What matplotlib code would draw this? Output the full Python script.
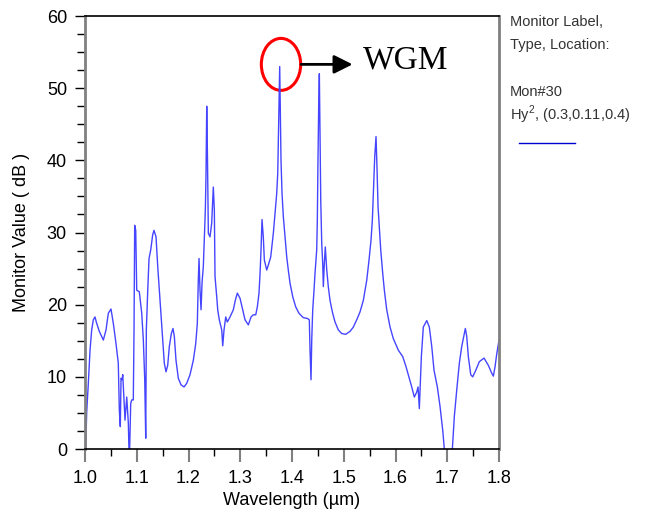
import numpy as np
import matplotlib
matplotlib.use("Agg")
import matplotlib.pyplot as plt
from matplotlib.patches import Ellipse
from matplotlib.ticker import MultipleLocator, FormatStrFormatter

plt.rcParams['font.family'] = ['Liberation Sans', 'DejaVu Sans']
plt.rcParams['mathtext.fontset'] = 'custom'
plt.rcParams['mathtext.rm'] = 'Liberation Sans'

# monitor spectrum, wavelength in um, value in dB
wavelength = [
    1.0000, 1.0033, 1.0064, 1.0097, 1.0129, 1.0160, 1.0193, 1.0218, 1.0276, 1.0354,
    1.0406, 1.0450, 1.0502, 1.0547, 1.0599, 1.0643, 1.0663, 1.0682, 1.0696, 1.0715,
    1.0729, 1.0754, 1.0773, 1.0806, 1.0837, 1.0856, 1.0883, 1.0902, 1.0933, 1.0947,
    1.0960, 1.0980, 1.0999, 1.1049, 1.1096, 1.1127, 1.1154, 1.1173, 1.1185, 1.1212,
    1.1237, 1.1270, 1.1308, 1.1333, 1.1372, 1.1405, 1.1449, 1.1494, 1.1532, 1.1565,
    1.1598, 1.1629, 1.1668, 1.1700, 1.1726, 1.1758, 1.1803, 1.1855, 1.1913, 1.1965,
    1.2029, 1.2093, 1.2139, 1.2170, 1.2189, 1.2203, 1.2222, 1.2242, 1.2261, 1.2286,
    1.2305, 1.2325, 1.2338, 1.2352, 1.2367, 1.2383, 1.2415, 1.2448, 1.2468, 1.2479,
    1.2499, 1.2512, 1.2545, 1.2564, 1.2595, 1.2642, 1.2661, 1.2686, 1.2719, 1.2750,
    1.2802, 1.2866, 1.2904, 1.2943, 1.2995, 1.3047, 1.3092, 1.3156, 1.3208, 1.3252,
    1.3299, 1.3330, 1.3362, 1.3382, 1.3401, 1.3420, 1.3445, 1.3465, 1.3511, 1.3542,
    1.3588, 1.3639, 1.3671, 1.3704, 1.3724, 1.3735, 1.3749, 1.3755, 1.3762, 1.3774,
    1.3787, 1.3807, 1.3832, 1.3865, 1.3898, 1.3928, 1.3961, 1.4014, 1.4071, 1.4135,
    1.4218, 1.4296, 1.4334, 1.4348, 1.4367, 1.4381, 1.4400, 1.4425, 1.4444, 1.4477,
    1.4489, 1.4500, 1.4516, 1.4528, 1.4541, 1.4555, 1.4574, 1.4593, 1.4605, 1.4624,
    1.4643, 1.4671, 1.4701, 1.4734, 1.4779, 1.4831, 1.4895, 1.4960, 1.5038, 1.5121,
    1.5185, 1.5262, 1.5314, 1.5378, 1.5444, 1.5488, 1.5527, 1.5552, 1.5579, 1.5598,
    1.5623, 1.5643, 1.5662, 1.5687, 1.5714, 1.5753, 1.5784, 1.5830, 1.5894, 1.5957,
    1.6054, 1.6139, 1.6203, 1.6267, 1.6313, 1.6363, 1.6410, 1.6435, 1.6460, 1.6479,
    1.6499, 1.6537, 1.6603, 1.6653, 1.6700, 1.6744, 1.6808, 1.6860, 1.6912, 1.6943,
    1.7005, 1.7098, 1.7136, 1.7183, 1.7233, 1.7279, 1.7324, 1.7349, 1.7376, 1.7407,
    1.7453, 1.7492, 1.7550, 1.7619, 1.7710, 1.7793, 1.7859, 1.7890, 1.7923, 1.7956,
    1.7987, 1.8000,
]
monitor_db = [
    -3.0, 5.2, 9.1, 13.7, 16.5, 17.9, 18.3, 17.6, 16.3, 15.1,
    16.5, 18.8, 19.4, 17.4, 14.6, 11.9, 5.4, 3.1, 9.8, 9.6,
    10.3, 6.8, 4.0, 7.2, 3.6, -2.0, 6.3, 6.8, 6.8, 16.5,
    31.0, 30.3, 22.0, 21.8, 18.8, 15.1, 9.6, 1.5, 16.5, 22.0,
    26.4, 27.6, 29.7, 30.3, 29.4, 25.3, 20.6, 16.0, 11.9, 10.7,
    11.6, 14.2, 16.0, 16.7, 15.6, 12.3, 9.8, 8.9, 8.6, 9.1,
    10.3, 12.3, 14.6, 17.4, 23.4, 26.4, 22.0, 19.3, 23.0, 25.3,
    29.0, 33.1, 38.0, 47.5, 40.0, 29.9, 29.4, 31.3, 34.5, 36.3,
    33.1, 23.9, 21.1, 19.3, 17.9, 16.5, 14.3, 16.5, 18.3, 17.6,
    18.3, 19.3, 20.6, 21.6, 20.9, 19.3, 17.9, 17.2, 18.3, 18.6,
    18.6, 19.7, 21.6, 24.3, 27.6, 31.8, 29.4, 26.2, 24.8, 25.5,
    26.6, 29.9, 32.6, 35.4, 38.2, 42.4, 47.0, 49.7, 53.0, 47.0,
    40.0, 35.4, 32.2, 29.4, 26.6, 24.8, 23.0, 21.1, 19.7, 18.8,
    18.2, 18.1, 17.9, 13.7, 9.6, 15.1, 19.3, 22.0, 24.3, 27.6,
    31.7, 39.1, 47.9, 52.0, 43.3, 34.5, 28.5, 25.7, 22.5, 25.7,
    28.0, 24.8, 22.5, 20.6, 19.0, 17.6, 16.5, 16.0, 15.9, 16.3,
    16.9, 18.1, 19.0, 20.6, 23.4, 26.2, 29.0, 31.7, 36.8, 40.5,
    43.3, 38.7, 33.6, 30.8, 27.6, 24.3, 22.0, 19.3, 16.9, 15.3,
    13.7, 12.8, 11.4, 9.8, 8.6, 7.2, 7.9, 8.6, 5.6, 9.1,
    12.8, 16.9, 17.8, 16.9, 14.2, 10.9, 8.6, 5.9, 2.6, 0.0,
    -5.0, 0.0, 4.5, 8.2, 11.9, 14.2, 15.8, 16.7, 15.6, 12.8,
    10.3, 10.0, 10.9, 12.1, 12.6, 11.6, 10.5, 10.1, 11.4, 13.2,
    14.6, 15.1,
]

legend_lines = ["Monitor Label,", "Type, Location:", "", "Mon#30",
                "Hy$^\\mathrm{2}$, (0.3,0.11,0.4)"]

fig = plt.figure(figsize=(6.46, 5.2), dpi=100)
ax = fig.add_axes([0.1316, 0.1365, 0.6409, 0.8327])

ax.plot(wavelength, monitor_db, color='#4545ff', lw=1.0)

ax.set_xlim(1.0, 1.8)
ax.set_ylim(0, 60)
ax.xaxis.set_major_locator(MultipleLocator(0.1))
ax.xaxis.set_minor_locator(MultipleLocator(0.05))
ax.yaxis.set_major_locator(MultipleLocator(10))
ax.yaxis.set_minor_locator(MultipleLocator(2.5))
ax.xaxis.set_major_formatter(FormatStrFormatter('%.1f'))

ax.tick_params(axis='x', which='major', direction='out', length=9, width=1.5,
               color='#808080', labelsize=13, pad=6)
ax.tick_params(axis='x', which='minor', direction='out', length=5, width=1, color='black')
ax.tick_params(axis='y', which='major', direction='out', length=7, width=1,
               color='black', labelsize=13, pad=6)
ax.tick_params(axis='y', which='minor', direction='out', length=6, width=1, color='black')

for side in ('left', 'right'):
    ax.spines[side].set_color('#808080')
    ax.spines[side].set_linewidth(2)
for side in ('top', 'bottom'):
    ax.spines[side].set_color('black')
    ax.spines[side].set_linewidth(1.2)

ax.set_xlabel('Wavelength (\u00b5m)', fontsize=13, labelpad=4)
ax.set_ylabel('Monitor Value ( dB )', fontsize=13, labelpad=12)

# highlight the WGM resonance
ax.add_patch(Ellipse((1.3787, 53.3), 0.076, 7.2, fill=False,
                     edgecolor='#ff0000', lw=2.2))
ax.annotate('', xy=(1.517, 53.3), xytext=(1.4174, 53.3),
            arrowprops=dict(arrowstyle='-|>', color='black', lw=2,
                            mutation_scale=28, shrinkA=0, shrinkB=0))
ax.text(1.537, 53.9, 'WGM', fontsize=24, family='Liberation Serif',
        ha='left', va='center')

# monitor legend on the right
y0 = 0.957
for i, line in enumerate(legend_lines):
    fig.text(0.789, y0 - i * 0.0445, line, fontsize=10.5, color='#333333',
             ha='left', va='center')
fig.add_artist(plt.Line2D([0.803, 0.89], [0.725, 0.725], color='#0000cc', lw=1))

fig.savefig('out.png', dpi=100)
